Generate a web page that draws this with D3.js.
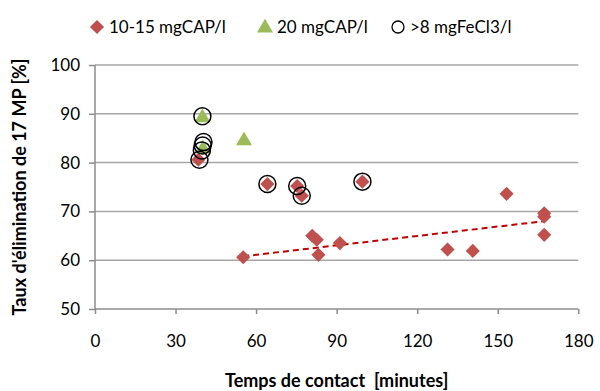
<!DOCTYPE html>
<html><head><meta charset="utf-8">
<script src="https://cdn.jsdelivr.net/npm/d3@7"></script>
<style>body{margin:0;background:#fff}svg{display:block}text{font-family:Lato,"Open Sans",sans-serif}</style>
</head><body><svg id="c" width="600" height="391"></svg>
<script>
const seriesNames = ["10-15 mgCAP/l", "20 mgCAP/l", ">8 mgFeCl3/l"];
const capLowX = [38.5, 55.2, 64.2, 75.3, 77.0, 80.9, 82.6, 83.2, 91.2, 99.6, 131.3, 140.7, 153.3, 167.3, 167.3, 167.3];
const capLowY = [80.6, 60.6, 75.6, 75.2, 73.2, 65.0, 64.2, 61.1, 63.5, 76.1, 62.2, 61.9, 73.6, 69.6, 68.9, 65.2];
const capHighX = [40.0, 40.2, 55.5];
const capHighY = [89.4, 83.0, 84.7];
const fecl3X = [40.0, 40.4, 40.1, 39.8, 38.9, 64.2, 75.3, 77.0, 99.6];
const fecl3Y = [89.5, 84.2, 83.5, 82.5, 80.6, 75.6, 75.2, 73.2, 76.1];
const trendX = [55.2, 167.3];
const trendY = [60.8, 68.0];
const xTicks = [0, 30, 60, 90, 120, 150, 180];
const yTicks = [50, 60, 70, 80, 90, 100];
const xTitle = "Temps de contact  [minutes]";
const yTitle = "Taux d'élimination de 17 MP [%]";

const svg = d3.select("#c");
const x = d3.scaleLinear().domain([0, 180]).range([95, 578.3]);
const y = d3.scaleLinear().domain([50, 100]).range([309, 65]);
const axisCol = "#8c8c8c";

// gridlines
svg.append("g").selectAll("line").data(yTicks.slice(1)).join("line")
  .attr("x1", x(0)).attr("x2", x(180)).attr("y1", d => y(d)).attr("y2", d => y(d))
  .attr("stroke", "#a6a6a6").attr("stroke-width", 1.5);

// axes
const xa = svg.append("g").attr("transform", `translate(0,${y(50)})`)
  .call(d3.axisBottom(x).tickValues(xTicks).tickSize(5).tickPadding(21));
const ya = svg.append("g").attr("transform", `translate(${x(0)},0)`)
  .call(d3.axisLeft(y).tickValues(yTicks).tickSize(6).tickPadding(9));
[xa, ya].forEach(a => {
  a.select(".domain").attr("stroke", axisCol).attr("stroke-width", 1.5);
  a.selectAll(".tick line").attr("stroke", axisCol).attr("stroke-width", 1.5);
  a.selectAll(".tick text").attr("fill", "#000").style("font-size", "17px").style("font-family", "Lato");
});
xa.select(".domain").attr("d", `M${x(0)},0H${x(180)}`);
ya.select(".domain").attr("d", `M0,${y(50)}V${y(100)}`);

const diamond = d3.symbol().type(d3.symbolSquare).size(100);
const tri = d3.symbol().type(d3.symbolTriangle).size(110);

// trend
svg.append("line").attr("x1", x(trendX[0])).attr("y1", y(trendY[0]))
  .attr("x2", x(trendX[1])).attr("y2", y(trendY[1]))
  .attr("stroke", "#c00000").attr("stroke-width", 2).attr("stroke-dasharray", "6,4");

// red diamonds
svg.append("g").selectAll("path").data(capLowX.map((d, i) => [d, capLowY[i]])).join("path")
  .attr("d", diamond)
  .attr("transform", d => `translate(${x(d[0])},${y(d[1])}) rotate(45)`)
  .attr("fill", "#c0504d");

// green triangles
svg.append("g").selectAll("path").data(capHighX.map((d, i) => [d, capHighY[i]])).join("path")
  .attr("d", tri)
  .attr("transform", d => `translate(${x(d[0])},${y(d[1]) + 1})`)
  .attr("fill", "#9bbb59");

// circles
svg.append("g").selectAll("circle").data(fecl3X.map((d, i) => [d, fecl3Y[i]])).join("circle")
  .attr("cx", d => x(d[0])).attr("cy", d => y(d[1])).attr("r", 8.5)
  .attr("fill", "none").attr("stroke", "#000").attr("stroke-width", 1.5);

// legend
const lg = svg.append("g").style("font-size", "17px");
const lx = [97, 265, 398];
lg.append("path").attr("d", diamond).attr("transform", `translate(${lx[0]},27) rotate(45)`).attr("fill", "#c0504d");
lg.append("path").attr("d", tri).attr("transform", `translate(${lx[1]},28)`).attr("fill", "#9bbb59");
lg.append("circle").attr("cx", lx[2]).attr("cy", 27).attr("r", 6).attr("fill", "none").attr("stroke", "#000").attr("stroke-width", 1.3);
seriesNames.forEach((s, i) => {
  lg.append("text").attr("x", lx[i] + 12).attr("y", 33).text(s);
});

// titles
svg.append("text").attr("x", (x(0) + x(180)) / 2).attr("y", 387).attr("text-anchor", "middle")
  .style("font-size", "18px").style("font-weight", "bold").style("white-space", "pre").text(xTitle);
svg.append("text").attr("transform", `translate(26,${(y(50) + y(100)) / 2}) rotate(-90)`)
  .attr("text-anchor", "middle").style("font-size", "18px").style("font-weight", "bold").text(yTitle);
</script></body></html>
